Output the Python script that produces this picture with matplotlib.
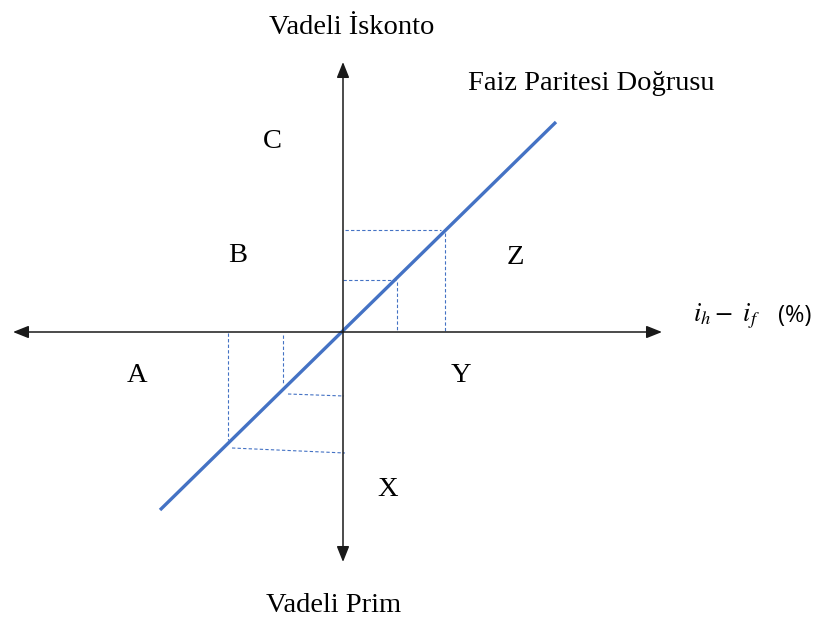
import matplotlib.pyplot as plt

# axis ends (origin at 0,0)
x_axis = [-330, 319]
y_axis = [-230, 270]

# parity line
line_x = [-183, 213]
line_y = [-178, 210]

# dashed projection segments: (x0, x1, y0, y1)
guides = [
    (2, 98, 102, 102),
    (102, 102, 99, 0),
    (0, 53, 52, 52),
    (54, 54, 50, 2),
    (-115, -115, -1, -108),
    (-111, 2, -116, -121),
    (-60, -60, -3, -53),
    (-55, 1, -62, -64),
]

# region letters
letters = ['C', 'B', 'Z', 'A', 'Y', 'X']
letter_x = [-71, -105, 172, -206, 118, 45]
letter_y = [191, 77, 75, -43, -43, -158]

top_label = 'Vadeli İskonto'
bottom_label = 'Vadeli Prim'
line_label = 'Faiz Paritesi Doğrusu'
x_label = r'$i_h -\ i_f$'
x_unit = '(%)'

blue = '#4472C4'
serif = 'Liberation Serif'

plt.rcParams['mathtext.fontset'] = 'stix'

fig = plt.figure(figsize=(8.16, 6.21), dpi=100)
ax = fig.add_axes([0, 0, 1, 1])
ax.set_xlim(-343, 473)
ax.set_ylim(-289, 332)
ax.axis('off')

#axes with arrows
for a, b in [((x_axis[0], 0), (x_axis[1], 0)), ((0, y_axis[0]), (0, y_axis[1]))]:
    ax.annotate('', xy=a, xytext=b,
                arrowprops=dict(arrowstyle='<|-|>,head_length=0.95,head_width=0.38',
                                mutation_scale=10, color='#1a1a1a', lw=1.1,
                                shrinkA=0, shrinkB=0))

for x0, x1, y0, y1 in guides:
    ax.plot([x0, x1], [y0, y1], color=blue, lw=0.8, linestyle=(0, (3, 2)))

ax.plot(line_x, line_y, color=blue, lw=2.4, solid_capstyle='butt')

for t, x, y in zip(letters, letter_x, letter_y):
    ax.text(x, y, t, fontsize=20.5, family=serif, ha='center', va='center')

ax.text(9, 305, top_label, fontsize=20.5, family=serif, ha='center', va='center')
ax.text(-9, -274, bottom_label, fontsize=20.5, family=serif, ha='center', va='center')
ax.text(248, 249, line_label, fontsize=20.5, family=serif, ha='center', va='center')

ax.text(383, 16, x_label, fontsize=19, family='STIXGeneral', ha='center', va='center')
ax.text(452, 16, x_unit, fontsize=17, family='Open Sans', ha='center', va='center')

fig.savefig('out.png', dpi=100)
